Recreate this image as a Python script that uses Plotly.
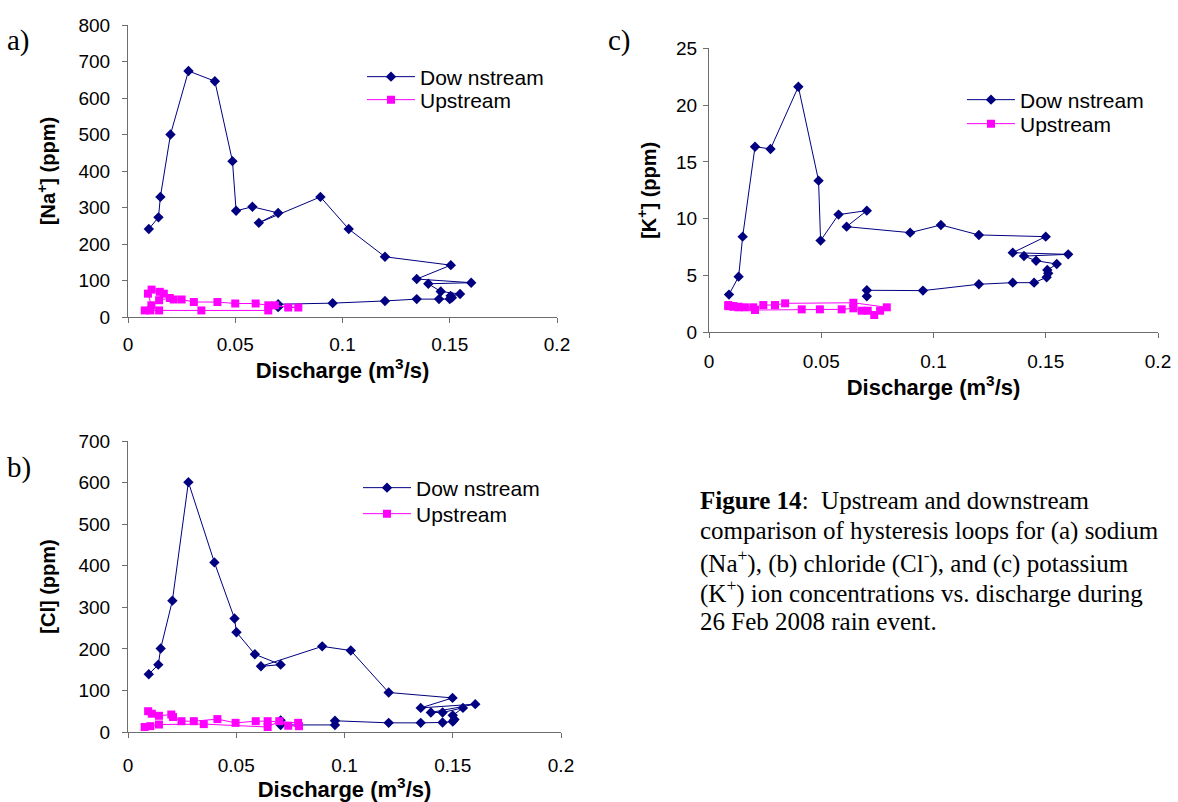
import plotly.graph_objects as go

# ---------------- data ----------------
# Panel a) sodium
na_q_down = [0.0097, 0.0142, 0.0151, 0.0198, 0.0282, 0.0405, 0.0487, 0.0504, 0.058, 0.070, 0.061,
             0.0897, 0.1029, 0.1198, 0.1505, 0.1346, 0.160, 0.140, 0.1458, 0.1548, 0.1504, 0.151,
             0.150, 0.145, 0.1346, 0.1198, 0.0954, 0.070, 0.070]
na_down = [241, 273, 329, 500, 674, 646, 427, 291, 302, 285, 258, 329, 241, 165, 142, 104, 94, 91,
           70, 63, 58, 53, 49, 49, 49, 44, 38, 35, 27]
na_q_up = [0.0078, 0.0104, 0.0145, 0.0342, 0.0654, 0.0685, 0.0747, 0.0794, 0.0654, 0.0595, 0.050,
           0.0417, 0.0307, 0.025, 0.0213, 0.0195, 0.0145, 0.0167, 0.0148, 0.011, 0.0093, 0.0109]
na_up = [18, 18, 18, 18, 18, 32, 26, 26, 32, 37, 37, 41, 41, 48, 48, 52, 46, 64, 69, 75, 64, 32]

# Panel b) chloride
cl_q_down = [0.0096, 0.014, 0.0151, 0.0205, 0.0279, 0.0399, 0.0492, 0.0501, 0.0586, 0.0705, 0.0614,
             0.0897, 0.1029, 0.1204, 0.1499, 0.1352, 0.1604, 0.1399, 0.1453, 0.1547, 0.150, 0.1508,
             0.150, 0.1453, 0.1352, 0.1204, 0.0956, 0.0956, 0.0705, 0.0705]
cl_down = [139, 162, 201, 316, 601, 408, 273, 240, 187, 162, 158, 206, 196, 95, 82, 58, 67, 47, 47,
           58, 40, 30, 25, 23, 22, 22, 27, 17, 17, 28]
cl_q_up = [0.0077, 0.0103, 0.0143, 0.035, 0.0645, 0.0699, 0.074, 0.079, 0.0786, 0.0645, 0.059,
           0.0497, 0.0413, 0.0304, 0.0247, 0.0208, 0.020, 0.0143, 0.011, 0.0093]
cl_up = [12, 14, 18, 19, 12, 26, 15, 14, 22, 26, 26, 22, 31, 26, 26, 36, 42, 39, 44, 50]

# Panel c) potassium
k_q_down = [0.0089, 0.0132, 0.015, 0.0205, 0.0274, 0.0398, 0.0488, 0.0497, 0.0577, 0.0703, 0.0613,
            0.0896, 0.1033, 0.1202, 0.150, 0.1353, 0.160, 0.1403, 0.1457, 0.1549, 0.1507, 0.1511,
            0.1504, 0.1448, 0.1353, 0.1202, 0.0953, 0.0703, 0.0703]
k_down = [3.32, 4.90, 8.42, 16.34, 16.14, 21.62, 13.35, 8.07, 10.36, 10.71, 9.30, 8.77, 9.45, 8.57,
          8.42, 7.01, 6.86, 6.71, 6.30, 6.01, 5.48, 5.19, 4.84, 4.37, 4.37, 4.23, 3.67, 3.70, 3.17]
k_q_up = [0.0086, 0.0108, 0.0131, 0.0205, 0.0413, 0.0494, 0.0591, 0.0643, 0.068, 0.0707, 0.0736,
          0.0762, 0.0792, 0.0643, 0.0339, 0.0294, 0.0242, 0.0197, 0.016, 0.0131, 0.0108, 0.0086]
k_up = [2.30, 2.25, 2.20, 1.96, 2.02, 2.02, 2.02, 2.11, 1.90, 1.90, 1.52, 1.90, 2.20, 2.60, 2.55,
        2.40, 2.40, 2.20, 2.20, 2.25, 2.31, 2.40]

x_ticks = [0, 0.05, 0.1, 0.15, 0.2]
series_names = ["Dow nstream", "Upstream"]
panel_letters = ["a)", "b)", "c)"]
caption_lines = [
    "<b>Figure 14</b>:\u00a0 Upstream and downstream",
    "comparison of hysteresis loops for (a) sodium",
    "(Na<sup>+</sup>), (b) chloride (Cl<sup>-</sup>), and (c) potassium",
    "(K<sup>+</sup>) ion concentrations vs. discharge during",
    "26 Feb 2008 rain event.",
]

# ---------------- style ----------------
W, H = 1178, 802
NAVY = "#000080"
MAG = "#FF00FF"
AXC = "#6e6e6e"
SANS = "Liberation Sans, Arial, sans-serif"
SERIF = "Liberation Serif, Times New Roman, serif"


def px_x(p):
    return p / W


def px_y(p):
    return 1 - p / H


fig = go.Figure()

panels = [
    ("x", "y", na_q_down, na_down, na_q_up, na_up, "legend", "legend2"),
    ("x2", "y2", cl_q_down, cl_down, cl_q_up, cl_up, "legend3", "legend4"),
    ("x3", "y3", k_q_down, k_down, k_q_up, k_up, "legend5", "legend6"),
]
for xa, ya, qd, cd, qu, cu, lg1, lg2 in panels:
    fig.add_trace(go.Scatter(x=qd, y=cd, mode="lines+markers", name=series_names[0],
                             xaxis=xa, yaxis=ya, legend=lg1,
                             line=dict(color=NAVY, width=1),
                             marker=dict(symbol="diamond", size=8, color=NAVY),
                             cliponaxis=False))
    fig.add_trace(go.Scatter(x=qu, y=cu, mode="lines+markers", name=series_names[1],
                             xaxis=xa, yaxis=ya, legend=lg2,
                             line=dict(color=MAG, width=1),
                             marker=dict(symbol="square", size=8, color=MAG),
                             cliponaxis=False))

xtitlefont = dict(family=SANS, size=22, color="black", weight="bold")
ytitlefont = dict(family=SANS, size=20, color="black", weight="bold")


def xaxis(domain, anchor, lab_off):
    return dict(domain=domain, anchor=anchor, range=[0, 0.2], tickvals=x_ticks,
                showgrid=False, zeroline=False, showline=True, linecolor=AXC, linewidth=1,
                ticks="outside", ticklen=5, tickcolor=AXC, ticklabelstandoff=lab_off,
                tickfont=dict(family=SANS, size=19, color="black"),
                title=dict(text="Discharge (m<sup>3</sup>/s)", font=xtitlefont, standoff=3),
                automargin=False, fixedrange=True)


def yaxis(domain, anchor, rng, dtick, title, lab_off, t_off):
    return dict(domain=domain, anchor=anchor, range=rng, dtick=dtick, tick0=0,
                showgrid=False, zeroline=False, showline=True, linecolor=AXC, linewidth=1,
                ticks="outside", ticklen=5, tickcolor=AXC, ticklabelstandoff=lab_off,
                tickfont=dict(family=SANS, size=19, color="black"),
                title=dict(text=title, font=ytitlefont, standoff=t_off),
                automargin=False, fixedrange=True)


def legend(xp, yp):
    return dict(x=px_x(xp), y=px_y(yp), xanchor="left", yanchor="middle",
                bgcolor="rgba(0,0,0,0)", borderwidth=0, itemwidth=48,
                font=dict(family=SANS, size=21, color="black"), tracegroupgap=0)


fig.update_layout(
    width=W, height=H,
    margin=dict(l=0, r=0, t=0, b=0, pad=0, autoexpand=False),
    paper_bgcolor="white", plot_bgcolor="white",
    showlegend=True,
    xaxis=xaxis([px_x(128), px_x(557)], "y", 5),
    yaxis=yaxis([px_y(317), px_y(25)], "x", [0, 800], 100, "[Na<sup>+</sup>] (ppm)", 8, 17),
    xaxis2=xaxis([px_x(128), px_x(561)], "y2", 11),
    yaxis2=yaxis([px_y(732), px_y(441)], "x2", [0, 700], 100, "[Cl] (ppm)", 8, 17),
    xaxis3=xaxis([px_x(709), px_x(1158)], "y3", 7),
    yaxis3=yaxis([px_y(332.3), px_y(48.3)], "x3", [0, 25], 5, "[K<sup>+</sup>] (ppm)", 2, 14),
    legend=legend(362, 77),
    legend2=legend(362, 100),
    legend3=legend(358, 488),
    legend4=legend(358, 514),
    legend5=legend(962, 100),
    legend6=legend(962, 124),
)

letter_pos = [(5, 40), (5, 467), (606, 40)]
for txt, (lx, ly) in zip(panel_letters, letter_pos):
    fig.add_annotation(xref="paper", yref="paper", x=px_x(lx), y=px_y(ly),
                       xanchor="left", yanchor="middle", text=txt,
                       showarrow=False, font=dict(family=SERIF, size=29, color="black"))

line_y = [500, 531, 561, 591, 621]
for txt, ly in zip(caption_lines, line_y):
    fig.add_annotation(xref="paper", yref="paper", x=px_x(698), y=px_y(ly), xanchor="left",
                       yanchor="middle", align="left", showarrow=False, text=txt,
                       font=dict(family=SERIF, size=25, color="black"))

fig.write_html("out.html")
